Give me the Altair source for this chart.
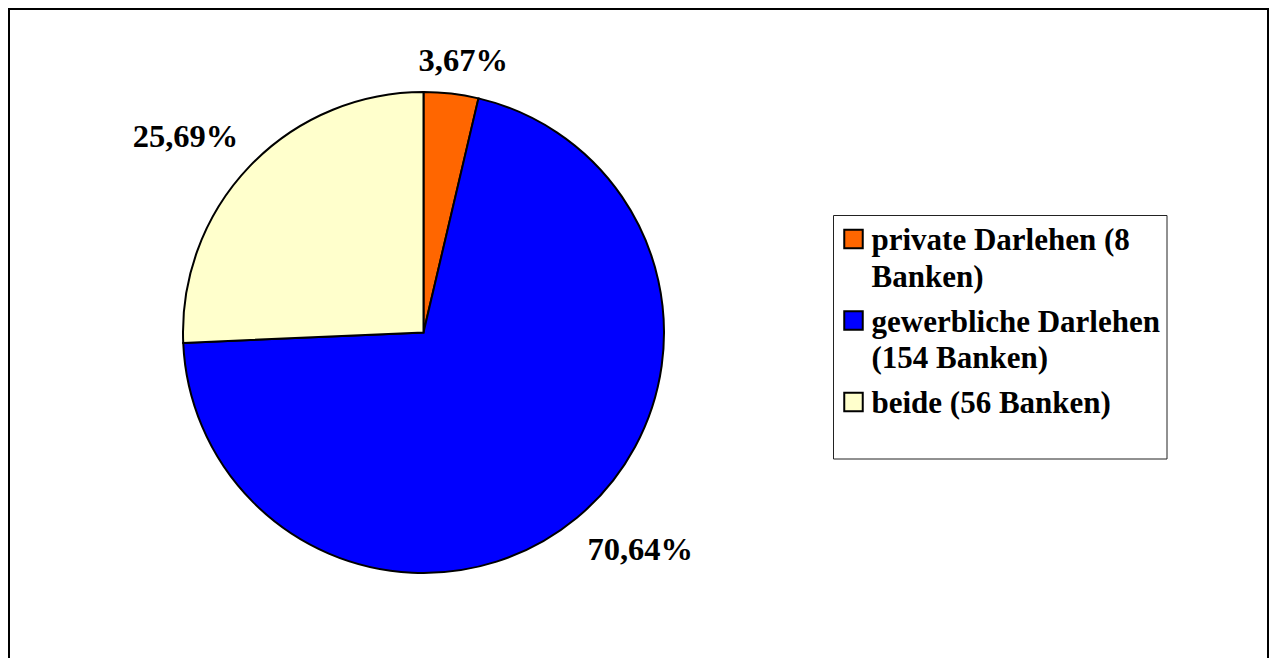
import altair as alt
import pandas as pd

# ---- data ----
categories = ["private Darlehen (8 Banken)", "gewerbliche Darlehen (154 Banken)", "beide (56 Banken)"]
banks = [8, 154, 56]
legend_lines = [["private Darlehen (8", "Banken)"], ["gewerbliche Darlehen", "(154 Banken)"], ["beide (56 Banken)"]]
colors = ["#FF6600", "#0000FF", "#FFFFCC"]

total = sum(banks)
pct_labels = [f"{v / total * 100:.2f}%".replace(".", ",") for v in banks]

# ---- layout ----
W, H = 1261, 650
CX, CY, R = 415.5, 324.5, 240.5
R0 = 252
FONT = "Liberation Serif"
FS_LAB = 32.5
FS_LEG = 31

pie_df = pd.DataFrame({"cat": categories, "banks": banks, "order": list(range(len(banks))), "label": pct_labels})
color_scale = alt.Scale(domain=categories, range=colors)

base = alt.Chart(pie_df)

pie = base.mark_arc(outerRadius=R, stroke="black", strokeWidth=2).encode(
    theta=alt.Theta("banks:Q", stack=True),
    order=alt.Order("order:Q"),
    color=alt.Color("cat:N", scale=color_scale, legend=None),
    x=alt.value(CX),
    y=alt.value(CY),
)

labels = base.transform_joinaggregate(
    total="sum(banks)"
).transform_window(
    cum="sum(banks)", sort=[alt.SortField("order")], frame=[None, 0]
).transform_calculate(
    a="2*PI*(datum.cum - datum.banks/2)/datum.total",
    hw=f"length(datum.label)*{FS_LAB}*0.287",
).transform_calculate(
    lx=f"{CX} + {R0}*sin(datum.a) + datum.hw*clamp(2*sin(datum.a),-1,1)",
    ly=f"{CY} - {R0}*cos(datum.a) - 22*clamp(2*cos(datum.a),-1,1)",
).mark_text(font=FONT, fontSize=FS_LAB, fontWeight="bold", baseline="alphabetic", align="center", dy=11, color="black").encode(
    x=alt.X("lx:Q", scale=None, axis=None),
    y=alt.Y("ly:Q", scale=None, axis=None),
    text="label:N",
)

# ---- legend (drawn manually) ----
rows = []
for i, (cat, lines) in enumerate(zip(categories, legend_lines)):
    for j, t in enumerate(lines):
        rows.append({"cat": cat, "item": i, "line": j, "text": t})
leg_df = pd.DataFrame(rows)

box = alt.Chart(pd.DataFrame({"k": [0]})).mark_rect(fill="white", stroke="#222222", strokeWidth=1).encode(
    x=alt.value(825.5), x2=alt.value(1159), y=alt.value(207.5), y2=alt.value(451)
)

leg_base = alt.Chart(leg_df)
leg_sym = leg_base.transform_filter("datum.line == 0").transform_calculate(
    sx="845.5", sy="231 + datum.item*81.5"
).mark_point(shape="square", size=342, filled=True, opacity=1, stroke="black", strokeWidth=2).encode(
    x=alt.X("sx:Q", scale=None, axis=None),
    y=alt.Y("sy:Q", scale=None, axis=None),
    fill=alt.Fill("cat:N", scale=color_scale, legend=None),
)
leg_txt = leg_base.transform_calculate(
    tx="863.5", ty="242 + datum.item*81.5 + datum.line*36.5"
).mark_text(font=FONT, fontSize=FS_LEG, fontWeight="bold", align="left", baseline="alphabetic", color="black").encode(
    x=alt.X("tx:Q", scale=None, axis=None),
    y=alt.Y("ty:Q", scale=None, axis=None),
    text="text:N",
)

# ---- outer frame (left, top, right) ----
one = alt.Chart(pd.DataFrame({"k": [0]}))
frame_l = one.mark_rule(color="black", strokeWidth=2).encode(x=alt.value(1), y=alt.value(0), y2=alt.value(H))
frame_t = one.mark_rule(color="black", strokeWidth=2).encode(x=alt.value(0), x2=alt.value(W), y=alt.value(1))
frame_r = one.mark_rule(color="black", strokeWidth=2).encode(x=alt.value(W - 1), y=alt.value(0), y2=alt.value(H))

chart = alt.layer(
    frame_l, frame_t, frame_r, pie, labels, box, leg_sym, leg_txt
).properties(
    width=W, height=H, autosize=alt.AutoSizeParams(type="none"), padding=0,
).configure_view(stroke=None).resolve_scale(color="independent", fill="independent")

chart.save("out.html", embed_options={"renderer": "svg", "actions": False})
